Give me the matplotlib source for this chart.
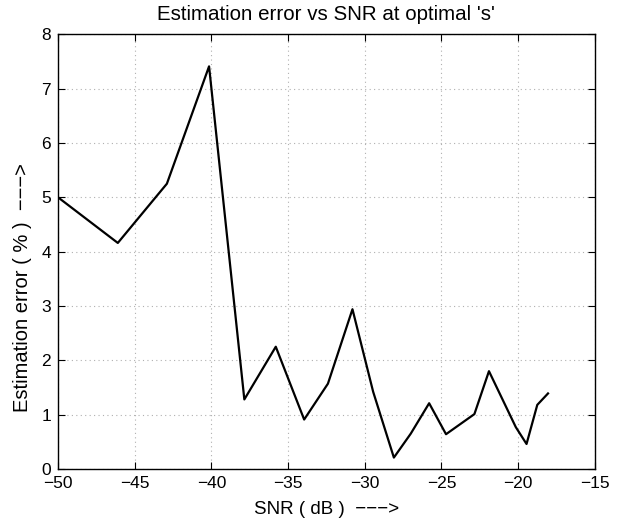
import matplotlib.pyplot as plt

snr = [-50, -46.1, -42.9, -40.15, -37.85, -35.8, -33.95, -32.4, -30.8, -29.45,
       -28.1, -27.0, -25.8, -24.7, -22.85, -21.9, -20.15, -19.45, -18.75, -18.05]
err = [5.0, 4.16, 5.25, 7.41, 1.28, 2.25, 0.91, 1.57, 2.94, 1.42,
       0.21, 0.65, 1.21, 0.64, 1.01, 1.80, 0.77, 0.46, 1.18, 1.39]

plt.rcParams['font.family'] = ['Liberation Sans', 'DejaVu Sans']

fig = plt.figure(figsize=(6.17, 5.25), dpi=100)
ax = fig.add_axes([0.094, 0.1067, 0.870, 0.828])
ax.plot(snr, err, color='black', linewidth=1.6)
ax.set_xlim(-50, -15)
ax.set_ylim(0, 8)
ax.set_xticks(range(-50, -14, 5))
ax.set_yticks(range(0, 9))
ax.grid(True, linestyle=(0, (1, 3)), color='#b0b0b0', linewidth=0.8)
ax.tick_params(direction='in', top=True, right=True, labelsize=12.5, length=5, pad=5)
for s in ax.spines.values():
    s.set_linewidth(1.0)
ax.set_title("Estimation error vs SNR at optimal 's'", fontsize=14.8, pad=10)
ax.set_xlabel('SNR ( dB )  \u2212\u2212\u2212>', fontsize=13.5, labelpad=7)
ax.set_ylabel('Estimation error ( % )  \u2212\u2212\u2212>', fontsize=14.5)
ax.yaxis.set_label_coords(-0.048, 0.418)
fig.savefig('out.png', dpi=100)
